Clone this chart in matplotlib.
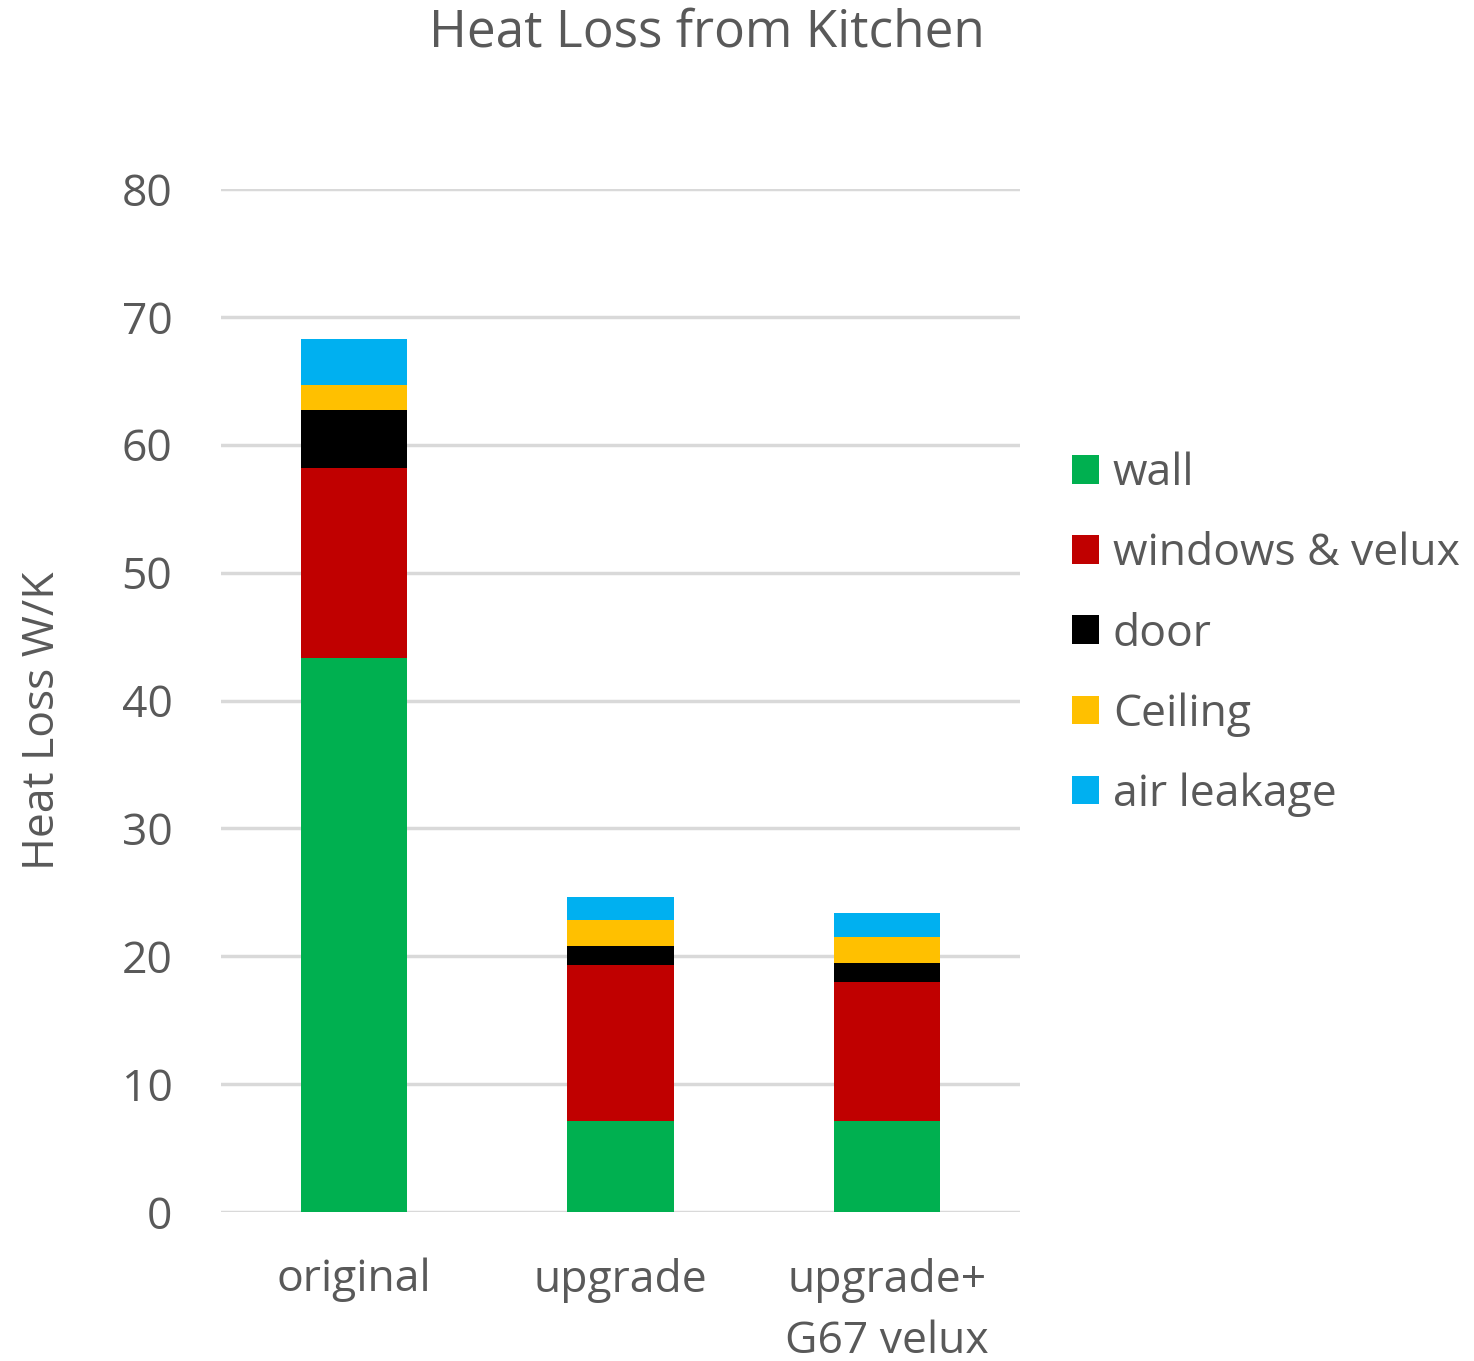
import matplotlib.pyplot as plt
import numpy as np

plt.rcParams['font.family'] = ['Open Sans', 'DejaVu Sans']

categories = ["original", "upgrade", "upgrade+\nG67 velux"]
series_names = ["wall", "windows & velux", "door", "Ceiling", "air leakage"]
wall = [43.3, 7.1, 7.1]
windows = [14.9, 12.2, 10.9]
door = [4.5, 1.5, 1.5]
ceiling = [2.0, 2.0, 2.0]
air_leakage = [3.6, 1.8, 1.9]
colors = ["#00B050", "#C00000", "#000000", "#FFC000", "#00B0F0"]

text_color = "#595959"
grid_color = "#D9D9D9"

fig = plt.figure(figsize=(14.74, 13.61), dpi=100)
# axes placed to match the reference pixel layout
ax = fig.add_axes([221 / 1474, 1 - 1212 / 1361, 799 / 1474, (1212 - 189) / 1361])

x = np.arange(len(categories))
bottom = np.zeros(len(categories))
for name, vals, col in zip(series_names, [wall, windows, door, ceiling, air_leakage], colors):
    ax.bar(x, vals, width=0.4, bottom=bottom, color=col, label=name, zorder=3)
    bottom += np.array(vals)

ax.set_xlim(-0.5, 2.5)
ax.set_ylim(0, 80)
ax.set_yticks(range(0, 81, 10))
ax.yaxis.grid(True, color=grid_color, linewidth=2.5, zorder=0)
ax.set_axisbelow(True)
for s in ax.spines.values():
    s.set_visible(False)
ax.tick_params(axis='both', length=0, colors=text_color, labelsize=32)
ax.tick_params(axis='y', pad=35)
ax.tick_params(axis='x', pad=33)
ax.set_xticks(x)
ax.set_xticklabels(categories, linespacing=1.5)

ax.set_ylabel("Heat Loss W/K", color=text_color, fontsize=32, labelpad=41, y=0.48)
fig.text(707 / 1474, 1 - 33 / 1361, "Heat Loss from Kitchen", ha='center', va='center',
         color=text_color, fontsize=37)

leg = ax.legend(loc='upper left', bbox_to_anchor=(1.065, 0.743), frameon=False,
                fontsize=32, handlelength=0.62, handleheight=0.62, handletextpad=0.3,
                labelspacing=0.8, borderpad=0, borderaxespad=0,
                labelcolor=text_color)

fig.savefig("out.png", dpi=100)
